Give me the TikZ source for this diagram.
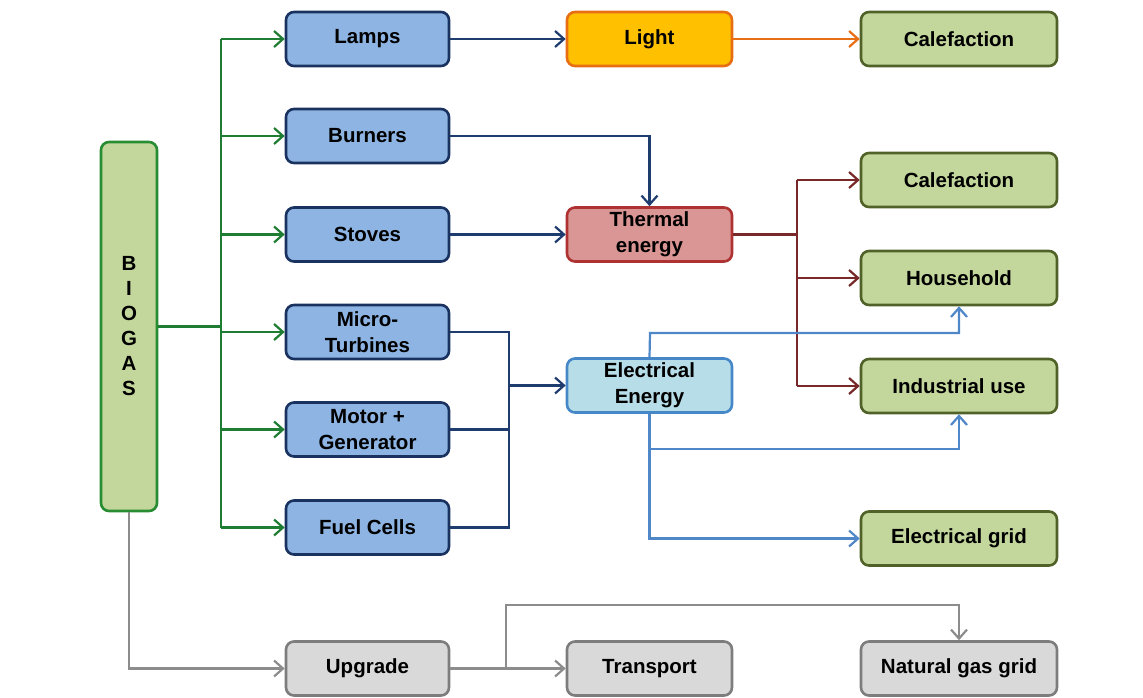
\documentclass[tikz,border=0pt]{standalone}
\usepackage{fontspec}
\setmainfont{Liberation Sans}
\usetikzlibrary{arrows.meta}
\definecolor{gline}{RGB}{30,125,50}
\definecolor{bfill}{RGB}{141,180,226}
\definecolor{bdraw}{RGB}{25,50,95}
\definecolor{bline}{RGB}{30,60,110}
\definecolor{biofill}{RGB}{195,214,155}
\definecolor{biodraw}{RGB}{40,140,50}
\definecolor{gfill}{RGB}{195,214,155}
\definecolor{gdraw}{RGB}{80,98,40}
\definecolor{lfill}{RGB}{255,192,0}
\definecolor{ldraw}{RGB}{232,110,20}
\definecolor{tfill}{RGB}{218,150,148}
\definecolor{tdraw}{RGB}{175,50,50}
\definecolor{tline}{RGB}{120,40,40}
\definecolor{efill}{RGB}{183,222,232}
\definecolor{edraw}{RGB}{70,135,200}
\definecolor{eline}{RGB}{80,135,200}
\definecolor{grfill}{RGB}{217,217,217}
\definecolor{grdraw}{RGB}{125,125,125}
\definecolor{grline}{RGB}{140,140,140}
\tikzset{
  box/.style={draw, rounded corners=8pt, line width=2.6pt, minimum height=54pt,
    align=center, inner sep=0pt, font=\fontsize{20.5}{26}\selectfont\bfseries, text=black},
  bluebox/.style={box, fill=bfill, draw=bdraw, minimum width=163pt},
  midbox/.style={box, minimum width=165pt},
  greenbox/.style={box, fill=gfill, draw=gdraw, minimum width=196pt},
  graybox/.style={box, fill=grfill, draw=grdraw},
  conn/.style={line width=2.2pt},
  arr/.style={conn, -{Straight Barb[length=9pt,width=16pt,line width=2.2pt]}},
}
\begin{document}
\begin{tikzpicture}[x=1pt,y=-1pt]
\useasboundingbox (0,0) rectangle (1143,697);
% nodes
\node[box, fill=biofill, draw=biodraw, minimum width=56pt, minimum height=369pt,
  font=\fontsize{20.5}{25}\selectfont\bfseries] (biogas) at (129,326.5)
  {B\\I\\O\\G\\A\\S};
\node[bluebox] (lamps) at (367.5,39) {Lamps};
\node[bluebox] (burners) at (367.5,136) {Burners};
\node[bluebox] (stoves) at (367.5,234.5) {Stoves};
\node[bluebox] (micro) at (367.5,332) {Micro-\\Turbines};
\node[bluebox] (motor) at (367.5,429.5) {Motor +\\Generator};
\node[bluebox] (fuel) at (367.5,527.5) {Fuel Cells};
\node[midbox, fill=lfill, draw=ldraw] (light) at (649.5,39) {Light};
\node[midbox, fill=tfill, draw=tdraw] (thermal) at (649.5,234.5) {Thermal\\energy};
\node[midbox, fill=efill, draw=edraw] (elec) at (649.5,385.5) {Electrical\\Energy};
\node[greenbox] (cal1) at (959,39) {Calefaction};
\node[greenbox] (cal2) at (959,180) {Calefaction};
\node[greenbox] (house) at (959,278) {Household};
\node[greenbox] (indus) at (959,386) {Industrial use};
\node[greenbox] (egrid) at (959,538.5) {Electrical grid};
\node[graybox, minimum width=163pt] (upgrade) at (367.5,668.5) {Upgrade};
\node[graybox, minimum width=165pt] (transport) at (649.5,668.5) {Transport};
\node[graybox, minimum width=196pt] (natgas) at (959,668.5) {Natural gas grid};
% coordinates
\coordinate (gtrunk) at (221,326.5);
\coordinate (ecol) at (509,385.5);
\coordinate (tcol) at (797,234.5);
\coordinate (eup) at (650,333);
\coordinate (ebr) at (650,449);
\coordinate (gbr) at (506,668.5);
\coordinate (gup) at (506,605);
% green
\draw[conn, gline] (biogas.east |- gtrunk) -- (gtrunk);
\draw[conn, gline] (lamps.west -| gtrunk) -- (fuel.west -| gtrunk);
\foreach \n in {lamps,burners,stoves,micro,motor,fuel}
  \draw[arr, gline] (\n.west -| gtrunk) -- (\n.west);
% blue
\draw[arr, bline] (lamps.east) -- (light.west);
\draw[arr, bline] (burners.east) -| (thermal.north);
\draw[arr, bline] (stoves.east) -- (thermal.west);
\draw[conn, bline] (micro.east) -- (micro.east -| ecol) -- (fuel.east -| ecol) -- (fuel.east);
\draw[conn, bline] (motor.east) -- (motor.east -| ecol);
\draw[arr, bline] (ecol) -- (elec.west);
% orange
\draw[arr, ldraw] (light.east) -- (cal1.west);
% thermal
\draw[conn, tline] (thermal.east) -- (tcol);
\draw[conn, tline] (cal2.west -| tcol) -- (indus.west -| tcol);
\foreach \n in {cal2,house,indus}
  \draw[arr, tline] (\n.west -| tcol) -- (\n.west);
% electrical
\draw[arr, eline] (elec.north) -- (eup) -| (house.south);
\draw[arr, eline] (elec.south) |- (egrid.west);
\draw[arr, eline] (ebr) -| (indus.south);
% gray
\draw[arr, grline] (biogas.south) |- (upgrade.west);
\draw[arr, grline] (upgrade.east) -- (transport.west);
\draw[arr, grline] (gbr) -- (gup) -| (natgas.north);
\end{tikzpicture}
\end{document}
